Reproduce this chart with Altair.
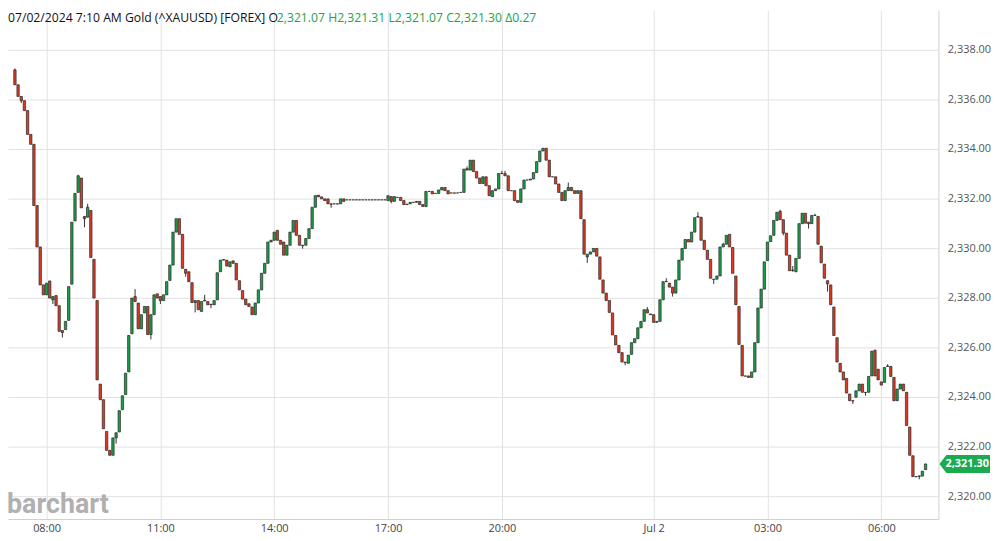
import altair as alt
import pandas as pd

# ---------------- data ----------------
opens = [
    2337.19, 2336.59, 2336.12, 2335.95, 2335.55, 2334.59, 2334.19, 2331.72, 2330.05, 2328.52,
    2328.12, 2328.68, 2327.92, 2328.09, 2327.68, 2326.68, 2326.72, 2327.09, 2328.55, 2331.10,
    2332.25, 2332.83, 2331.28, 2331.25, 2331.52, 2329.55, 2327.89, 2324.52, 2323.89, 2322.61,
    2321.85, 2321.65, 2322.35, 2322.59, 2323.49, 2324.10, 2325.01, 2326.55, 2328.05, 2327.79,
    2326.75, 2327.39, 2327.65, 2326.52, 2327.32, 2328.16, 2328.05, 2327.89, 2328.12, 2328.70,
    2329.32, 2330.65, 2331.19, 2330.56, 2329.15, 2329.05, 2328.61, 2327.81, 2327.89, 2327.45,
    2327.87, 2327.85, 2327.74, 2327.72, 2327.92, 2329.05, 2329.52, 2329.52, 2329.25, 2329.49,
    2329.39, 2328.69, 2328.29, 2327.95, 2327.76, 2327.63, 2327.32, 2327.79, 2328.32, 2328.99,
    2329.39, 2330.25, 2330.32, 2330.72, 2330.32, 2330.25, 2329.72, 2330.12, 2330.65, 2331.12,
    2330.52, 2330.12, 2330.12, 2330.39, 2330.79, 2331.65, 2332.14, 2332.07, 2331.99, 2331.99,
    2331.79, 2331.79, 2331.79, 2331.79, 2331.99, 2331.95, 2331.95, 2331.95, 2331.95, 2331.95,
    2331.95, 2331.95, 2331.95, 2331.95, 2331.95, 2331.95, 2331.95, 2331.95, 2331.92, 2332.08,
    2331.89, 2332.05, 2332.05, 2331.92, 2331.78, 2331.79, 2331.85, 2331.85, 2331.89, 2331.76,
    2331.68, 2332.29, 2332.29, 2332.21, 2332.21, 2332.35, 2332.45, 2332.32, 2332.23, 2332.23,
    2332.23, 2332.25, 2332.25, 2333.21, 2333.15, 2333.55, 2333.09, 2332.83, 2332.61, 2332.88,
    2332.52, 2332.08, 2332.32, 2332.39, 2333.01, 2333.01, 2332.92, 2332.32, 2332.32, 2331.92,
    2331.85, 2332.39, 2332.75, 2332.75, 2332.79, 2333.05, 2333.49, 2333.92, 2334.03, 2333.55,
    2332.88, 2332.88, 2332.59, 2332.25, 2331.92, 2332.32, 2332.45, 2332.32, 2332.21, 2332.32,
    2331.15, 2329.65, 2329.76, 2329.85, 2329.99, 2329.65, 2328.72, 2328.19, 2327.89, 2327.39,
    2326.48, 2326.08, 2325.79, 2325.41, 2325.36, 2325.72, 2326.19, 2326.35, 2326.79, 2327.05,
    2327.52, 2327.35, 2327.32, 2327.05, 2327.05, 2327.92, 2328.65, 2328.59, 2328.43, 2328.19,
    2328.72, 2329.52, 2329.99, 2330.35, 2330.25, 2330.65, 2331.25, 2331.25, 2330.32, 2329.92,
    2329.55, 2328.75, 2328.75, 2328.88, 2330.05, 2330.16, 2330.56, 2330.03, 2328.88, 2327.65,
    2326.08, 2324.85, 2324.85, 2324.79, 2325.01, 2326.19, 2327.59, 2328.35, 2329.50, 2330.27,
    2330.52, 2331.12, 2331.49, 2331.15, 2330.61, 2329.72, 2329.10, 2329.05, 2329.59, 2330.99,
    2331.41, 2331.05, 2330.99, 2331.32, 2331.28, 2330.08, 2329.36, 2328.69, 2328.52, 2327.63,
    2326.39, 2325.36, 2325.01, 2324.75, 2324.12, 2323.85, 2323.99, 2324.25, 2324.52, 2324.19,
    2324.19, 2324.85, 2325.89, 2325.12, 2324.61, 2324.59, 2325.23, 2325.23, 2324.79, 2323.85,
    2324.32, 2324.52, 2324.19, 2322.79, 2321.63, 2320.79, 2320.80, 2320.81, 2321.07,
]
closes = [
    2336.59, 2336.12, 2335.95, 2335.55, 2334.59, 2334.19, 2331.72, 2330.05, 2328.52, 2328.12,
    2328.59, 2327.99, 2328.05, 2327.68, 2326.65, 2326.60, 2327.05, 2328.45, 2331.05, 2332.21,
    2332.92, 2331.63, 2331.19, 2331.65, 2329.63, 2327.99, 2324.69, 2323.89, 2322.72, 2321.85,
    2321.65, 2322.35, 2322.56, 2323.45, 2324.05, 2324.96, 2326.48, 2327.99, 2327.85, 2326.75,
    2327.32, 2327.65, 2326.52, 2327.32, 2328.12, 2327.99, 2327.89, 2328.12, 2328.65, 2329.32,
    2330.65, 2331.19, 2330.56, 2329.19, 2328.99, 2328.65, 2327.81, 2327.89, 2327.52, 2327.85,
    2327.90, 2327.72, 2327.72, 2327.89, 2329.01, 2329.52, 2329.54, 2329.28, 2329.45, 2329.39,
    2328.72, 2328.32, 2327.95, 2327.72, 2327.65, 2327.32, 2327.79, 2328.32, 2328.99, 2329.39,
    2330.25, 2330.32, 2330.65, 2330.32, 2330.16, 2329.72, 2330.12, 2330.65, 2331.12, 2330.52,
    2330.12, 2330.10, 2330.39, 2330.79, 2331.65, 2332.12, 2332.07, 2331.99, 2331.92, 2331.79,
    2331.77, 2331.79, 2331.78, 2331.99, 2331.89, 2331.95, 2331.95, 2331.95, 2331.95, 2331.95,
    2331.95, 2331.95, 2331.95, 2331.95, 2331.95, 2331.95, 2331.95, 2331.95, 2332.12, 2331.89,
    2332.08, 2332.05, 2331.92, 2331.76, 2331.76, 2331.85, 2331.85, 2331.89, 2331.76, 2331.68,
    2332.29, 2332.29, 2332.19, 2332.21, 2332.35, 2332.45, 2332.32, 2332.19, 2332.23, 2332.22,
    2332.23, 2332.25, 2333.19, 2333.15, 2333.55, 2333.09, 2332.83, 2332.61, 2332.88, 2332.52,
    2332.12, 2332.32, 2332.39, 2333.01, 2333.02, 2332.92, 2332.32, 2332.32, 2331.92, 2331.85,
    2332.39, 2332.75, 2332.75, 2332.79, 2333.05, 2333.49, 2333.92, 2334.03, 2333.55, 2332.88,
    2332.88, 2332.59, 2332.25, 2331.92, 2332.32, 2332.45, 2332.32, 2332.21, 2332.32, 2331.19,
    2329.76, 2329.76, 2329.85, 2329.99, 2329.68, 2328.75, 2328.19, 2327.89, 2327.41, 2326.50,
    2326.10, 2325.79, 2325.41, 2325.39, 2325.69, 2326.19, 2326.35, 2326.79, 2327.05, 2327.52,
    2327.39, 2327.32, 2327.01, 2327.01, 2327.92, 2328.65, 2328.66, 2328.43, 2328.19, 2328.72,
    2329.52, 2329.99, 2330.35, 2330.25, 2330.65, 2331.23, 2331.28, 2330.32, 2329.95, 2329.55,
    2328.79, 2328.74, 2328.88, 2330.05, 2330.16, 2330.52, 2330.05, 2328.99, 2327.72, 2326.12,
    2324.85, 2324.84, 2324.79, 2325.01, 2326.19, 2327.59, 2328.35, 2329.45, 2330.25, 2330.50,
    2331.12, 2331.45, 2331.15, 2330.61, 2329.72, 2329.09, 2329.12, 2329.59, 2330.99, 2331.41,
    2331.01, 2330.99, 2331.32, 2331.33, 2330.16, 2329.41, 2328.79, 2328.56, 2327.72, 2326.48,
    2325.41, 2325.01, 2324.69, 2324.16, 2323.85, 2323.84, 2324.25, 2324.52, 2324.19, 2324.18,
    2324.83, 2325.85, 2324.85, 2324.69, 2324.48, 2325.19, 2325.25, 2324.83, 2323.85, 2324.32,
    2324.52, 2324.25, 2322.85, 2321.65, 2320.79, 2320.78, 2320.82, 2321.01, 2321.30,
]
# visible wick extremes (1-based candle number -> price)
wick_highs = {1: 2337.25, 21: 2332.96, 23: 2331.30, 24: 2331.79, 39: 2328.35, 61: 2328.12,
              144: 2333.30, 155: 2333.12, 156: 2333.12, 176: 2332.65, 201: 2327.63,
              207: 2328.79, 217: 2331.45, 225: 2330.22, 243: 2331.55, 247: 2329.28,
              254: 2331.39, 277: 2325.32, 289: 2321.31}
wick_lows = {3: 2335.85, 13: 2327.75, 16: 2326.40, 23: 2330.85, 33: 2322.12, 44: 2326.32,
             47: 2327.75, 55: 2328.85, 58: 2327.41, 63: 2327.58, 92: 2329.98, 101: 2331.63,
             120: 2331.81, 182: 2329.41, 194: 2325.28, 209: 2328.05, 222: 2328.56,
             244: 2330.52, 247: 2329.05, 252: 2330.79, 258: 2328.25, 266: 2323.72,
             270: 2324.05, 287: 2320.68, 289: 2321.07}

tick_index = [10, 46, 82, 118, 154, 202, 238, 274]
tick_labels = ["08:00", "11:00", "14:00", "17:00", "20:00", "Jul 2", "03:00", "06:00"]
y_ticks = [2320, 2322, 2324, 2326, 2328, 2330, 2332, 2334, 2336, 2338]

header_black = "07/02/2024 7:10 AM Gold (^XAUUSD) [FOREX] O"
header_green = "2,321.07 H2,321.31 L2,321.07 C2,321.30 \u03940.27"
last_close = 2321.30
last_label = "2,321.30"
logo_text = "barchart"

GREEN = "#17a048"
RED = "#dc3a22"
TAG = "#1aab4f"

# ---------------- table ----------------
rows = []
for k, (o, c) in enumerate(zip(opens, closes)):
    n = k + 1
    h = max(o, c, wick_highs.get(n, o))
    l = min(o, c, wick_lows.get(n, o))
    rows.append(dict(i=k, open=o, close=c, high=h, low=l,
                     dir="up" if c >= o else "down"))
df = pd.DataFrame(rows)

W, H = 938, 513
xscale = alt.Scale(domain=[-0.621, 290.5], nice=False, zero=False)
yscale = alt.Scale(domain=[2319.08, 2339.6], nice=False, zero=False)

label_expr = ("[" + ",".join(f"'{t}'" for t in tick_labels) + "][indexof(["
              + ",".join(str(v) for v in tick_index) + "], datum.value)]")

x_axis = alt.Axis(values=tick_index, labelExpr=label_expr, grid=True, ticks=False,
                  domain=True, domainColor="#cfcfcf", gridColor="#e2e2e2",
                  labelColor="#444", labelFontSize=11, labelFont="Open Sans",
                  labelPadding=4, title=None)
y_axis = alt.Axis(orient="right", values=y_ticks, format=",.2f", grid=True, ticks=False,
                  domain=True, domainColor="#cfcfcf", gridColor="#e2e2e2",
                  labelColor="#555", labelFontSize=11, labelFont="Open Sans",
                  labelPadding=9, title=None)

base = alt.Chart(df)

wicks = base.mark_rule(color="#333333", strokeWidth=1).encode(
    x=alt.X("i:Q", scale=xscale, axis=x_axis),
    y=alt.Y("low:Q", scale=yscale, axis=y_axis),
    y2="high:Q",
)

bodies = base.mark_bar(size=2.4, stroke="#2a2a2a", strokeWidth=0.7).encode(
    x=alt.X("i:Q", scale=xscale, title=None),
    y=alt.Y("open:Q", scale=yscale, title=None),
    y2="close:Q",
    color=alt.Color("dir:N", scale=alt.Scale(domain=["up", "down"], range=[GREEN, RED]),
                    legend=None),
)

tag_df = pd.DataFrame({"v": [last_close], "t": [last_label]})
tag_shape = "M -1 0 L -0.725 -0.353 L 1 -0.353 L 1 0.353 L -0.725 0.353 Z"
tag = alt.Chart(tag_df).mark_point(shape=tag_shape, size=2601, filled=True,
                                   fill=TAG, opacity=1, strokeWidth=0).encode(
    x=alt.value(964.5),
    y=alt.Y("v:Q", scale=yscale, title=None),
)
tag_text = alt.Chart(tag_df).mark_text(align="center", baseline="middle", color="white",
                                       fontWeight="bold", fontSize=11,
                                       font="Open Sans").encode(
    x=alt.value(967),
    y=alt.Y("v:Q", scale=yscale, title=None),
    text="t:N",
)

head_df = pd.DataFrame({"a": [header_black], "b": [header_green]})
head1 = alt.Chart(head_df).mark_text(align="left", baseline="alphabetic", color="#111",
                                     fontSize=12.3, font="Open Sans").encode(
    x=alt.value(0), y=alt.value(11.5), text="a:N")
head2 = alt.Chart(head_df).mark_text(align="left", baseline="alphabetic", color="#22a447",
                                     fontSize=12.3, font="Open Sans").encode(
    x=alt.value(271), y=alt.value(11.5), text="b:N")

logo = alt.Chart(pd.DataFrame({"t": [logo_text]})).mark_text(
    align="left", baseline="alphabetic", color="#a8a8a8", fontSize=27,
    fontWeight="bold", font="Roboto", opacity=0.9).encode(
    x=alt.value(-1), y=alt.value(507), text="t:N")

chart = alt.layer(wicks, bodies, tag, tag_text, head1, head2, logo).properties(
    width=W, height=H,
    autosize=alt.AutoSizeParams(type="none"),
    padding={"left": 0, "top": 0, "right": 54, "bottom": 20},
).configure_view(stroke=None)

chart.save("out.html", embed_options={"renderer": "svg", "actions": False})
